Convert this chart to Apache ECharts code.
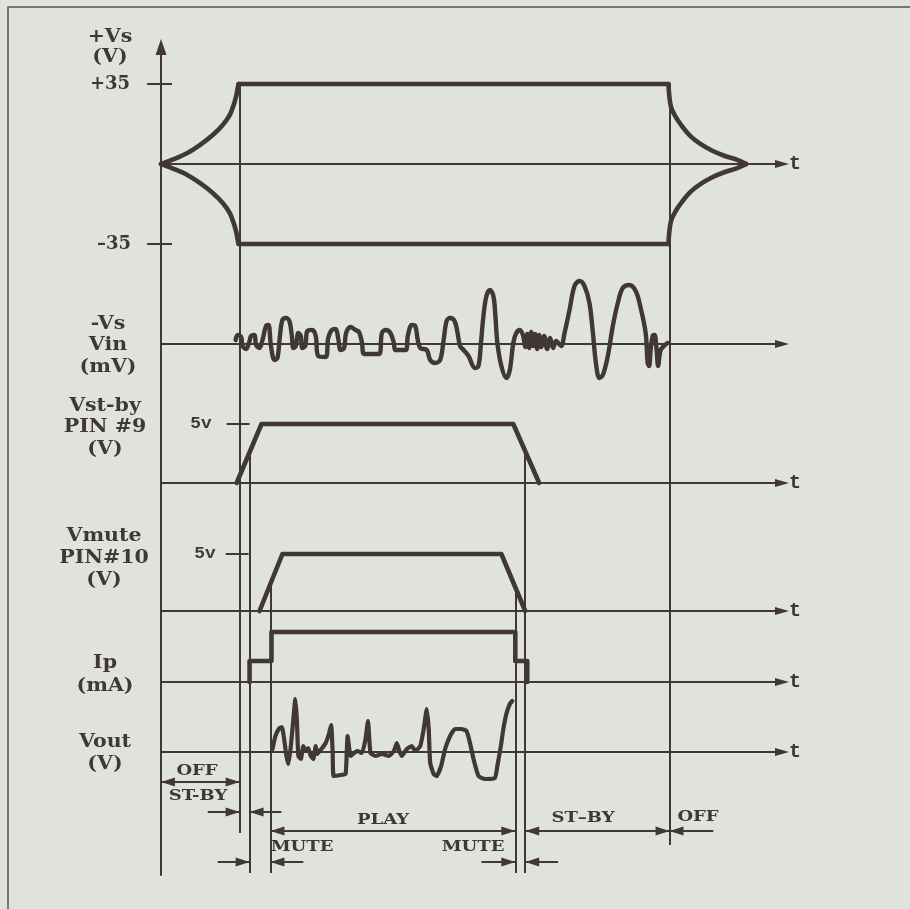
<!DOCTYPE html>
<html><head><meta charset="utf-8">
<script src="https://cdn.jsdelivr.net/npm/echarts@6/dist/echarts.min.js"></script>
<style>html,body{margin:0;padding:0;background:#dfe3dc;}#c{width:910px;height:909px;}</style>
</head><body><div id="c"></div>
<script>
// ---------- data (time in arbitrary units, 0 = switch-on) ----------
const tMax = 624;
// +Vs / -Vs supply (V)
const vsRiseUp   = [[0,0],[12,2],[26,4.7],[39,8.3],[52,12.7],[62,17.1],[69,21.4],[73,25.8],[75.5,29.5],[77,33],[78,35]];
const vsRiseDown = [[0,0],[12,-2],[26,-4.7],[39,-8.3],[52,-12.7],[62,-17.1],[69,-21.4],[73,-25.8],[75.5,-29.5],[77,-33],[78,-35]];
const vsHoldUp   = [[78,35],[510,35]];
const vsHoldDown = [[78,-35],[510,-35]];
const vsDecayUp   = [[510,35],[510.5,31],[512.5,25],[517,20.7],[524,16.3],[532,12.2],[542,8.8],[554,5.8],[566,3.6],[579,1.8],[588,0]];
const vsDecayDown = [[510,-35],[510.5,-31],[512.5,-25],[517,-20.7],[524,-16.3],[532,-12.2],[542,-8.8],[554,-5.8],[566,-3.6],[579,-1.8],[588,0]];
// Vin (mV, arbitrary)
const vin = [[75,4],[77,9],[80.5,7],[82,-2],[85.5,-5],[89,3],[90.5,8],[94,9],[95.5,-1],[99,-4],[102,4],[105.5,18],[108,19],[110.5,-2],[114,-16],[117,-14],[119.5,8],[122,24],[125.5,26],[129,23],[131.5,8],[133,-4],[135.5,-2],[138,11],[140.5,8],[142,-4],[145,-2],[147,13],[152,14],[155.5,8],[158,-12],[165.5,-13],[168,6],[171.5,14],[175.5,15],[178,6],[180.5,-6],[184,-4],[186,11],[190.5,17],[195.5,14],[199,12],[202,1],[204,-10],[219,-10],[222,11],[226,14],[230.5,11],[234,1],[235.5,-6],[246,-6],[248,8],[252,19],[255.5,18],[258,4],[260.5,-4],[267,-6],[270.5,-16],[275.5,-19],[280.5,-16],[284,4],[287,23],[290.5,26],[295,23],[298,11],[300.5,-2],[304,-6],[309,-12],[315.5,-24],[319,-22],[321.5,1],[324,28],[327,48],[330.5,54],[334,48],[336,28],[338,1],[342,-22],[347,-34],[350.5,-26],[354,1],[357,11],[360.5,14],[364,8],[366,-3],[368,10],[370,-4],[372,12],[374,-2],[376,10],[378,-5],[380,9],[382,-3],[385,8],[388,-5],[391,6],[394,-4],[397,3],[402,-2],[405.5,11],[410.5,34],[415.5,58],[420.5,63],[425.5,58],[430.5,41],[434,11],[437,-19],[440.5,-34],[444,-31],[449,-12],[454,18],[459,41],[464,56],[470.5,59],[477,53],[482,36],[487,11],[489,-19],[490.5,-22],[492,-6],[494,8],[496,9],[498,-6],[499.5,-22],[502,-6],[505.5,-2],[509,1]];
// Vst-by, PIN 9 (V)
const vstby = [[76,0],[101,5],[354,5],[380,0]];
// Vmute, PIN 10 (V)
const vmute = [[99,0],[122,5],[342,5],[366,0]];
// Ip (mA, arbitrary)
const ip = [[89,0],[89,21],[111,21],[111,50],[356,50],[356,21],[368,21],[368,0]];
// Vout (V, arbitrary)
const vout = [[112,3],[115,16],[119,24],[121.5,25],[124,11],[126,-4],[128,-12],[130.5,6],[133,33],[135,53],[136.5,33],[138,-4],[140.5,-7],[143,6],[145.5,1],[148,4],[150.5,-4],[153,-7],[155.5,6],[157,-2],[159.5,1],[162,4],[165.5,9],[169,19],[171,27],[172.5,-1],[173.5,-24],[180.5,-23],[185.5,-22],[187.5,16],[190.5,-4],[194,-1],[197,1],[202,-1],[205.5,13],[208,31],[210.5,-1],[215.5,-4],[222,-2],[229,-4],[234,1],[237,9],[239.5,1],[242,-4],[247,3],[252,6],[255.5,1],[260.5,6],[264,23],[267,43],[269,23],[270.5,-11],[274,-22],[277,-24],[281.5,-14],[285.5,3],[290.5,16],[295.5,23],[302,23],[307,21],[310.5,9],[314,-7],[319,-24],[325.5,-27],[335.5,-26],[338,-14],[341.5,6],[344,23],[347,38],[350.5,48],[353,51]];
// reference marks
const vsTicks = [[[-14,35],[11,35]],[[-14,-35],[11,-35]]];
const fiveVoltTicks = [[[66,5],[89,5]],[[65,5],[88,5]]];
// event instants (vertical markers): time, row where it starts, value there, depth where it ends
const eventTimes  = [79, 89, 110, 356, 366, 511];
const eventRows   = [0, 2, 3, 3, 2, 0];
const eventStart  = [35, 2.6, 2.4, 2.1, 2.7, 35];
const eventEnd    = [78, 118, 118, 118, 118, 90];
// phase arrows [from, to, depth]
const doubleArrows = [[0,79,27],[110,356,76],[366,511,76]];
const singleArrows = [[47,79,57],[121,89,57],[555,511,76],[57,89,107],[143,110,107],[322,356,107],[399,366,107]];
// text
const rowTitles = ['+Vs','(V)','-Vs','Vin','(mV)','Vst-by','PIN #9','(V)','Vmute','PIN#10','(V)','Ip','(mA)','Vout','(V)'];
const scaleLabels = ['+35','–35'];
const levelLabels = ['5v','5v'];
const phaseLabels = ['OFF','ST-BY','PLAY','MUTE','MUTE','ST–BY','OFF'];
const tNames = ['t','','t','t','t','t'];

// ---------- layout ----------
const rowTitlePos = [[110,37],[110,57],[108,324],[108,345],[108,367],[105,406],[105,427],[105,449],[104,536],[104,558],[104,580],[105,663],[105,686],[105,742],[105,764]];
const scaleLabelPos = [[110,84],[114,244]];
const levelLabelPos = [[201,424],[205,554]];
const phaseLabelPos = [[197,771],[198,796],[383,820],[302,847],[473,847],[583,818],[698,817]];
function band(top, bottom, base, pxPerUnit){
  return {top, height: bottom-top, max:(base-top)/pxPerUnit, min:-(bottom-base)/pxPerUnit};
}
const bands = [
  band(47,281,164,160/70),
  band(281,414,344,1),
  band(414,547,483,59/5),
  band(547,646,611,57/5),
  band(646,717,682,1),
  band(717,790,752,1)
];
const G = bands.length; // annotation grid index
const ink = '#413836';
const serif = 'DejaVu Serif';
const mono = 'Liberation Mono';

const grids=[], xAxes=[], yAxes=[], series=[];
const hidden = {axisTick:{show:false}, axisLabel:{show:false}, splitLine:{show:false}};
bands.forEach((b,i)=>{
  grids.push({left:161, right:128, top:b.top, height:b.height});
  xAxes.push(Object.assign({type:'value', gridIndex:i, min:0, max:tMax,
    name:tNames[i], nameLocation:'end', nameGap:7,
    nameTextStyle:{fontFamily:mono, fontWeight:'bold', fontSize:20, color:ink, verticalAlign:'middle'},
    axisLine:{show:true, onZero:true, symbol:['none','triangle'], symbolSize:[8,14], lineStyle:{color:ink,width:2}}}, hidden));
  yAxes.push(Object.assign({type:'value', gridIndex:i, min:b.min, max:b.max,
    axisLine:{show:true, onZero:true, symbol: i===0?['none','triangle']:'none', symbolSize:[11,16], lineStyle:{color:ink,width:2}}}, hidden));
});
grids.push({left:161, right:128, top:755, height:120});
xAxes.push(Object.assign({type:'value', gridIndex:G, min:0, max:tMax, show:false}, hidden));
yAxes.push(Object.assign({type:'value', gridIndex:G, min:0, max:120, inverse:true,
  axisLine:{show:true, onZero:false, lineStyle:{color:ink,width:2}}}, hidden));

function trace(i, data, width, smooth){
  return {type:'line', xAxisIndex:i, yAxisIndex:i, data, symbol:'none', showSymbol:false,
    smooth: smooth||false, clip:false, silent:true, animation:false, z:3,
    lineStyle:{color:ink, width, cap:'round', join:'round'}};
}
function segments(i, list, width){
  return {type:'lines', coordinateSystem:'cartesian2d', xAxisIndex:i, yAxisIndex:i,
    data:list.map(c=>({coords:c})), symbol:'none', clip:false, silent:true, animation:false, z:2,
    lineStyle:{color:ink, width, opacity:1, curveness:0}};
}
series.push(trace(0, vsRiseUp, 4.6, 0.35), trace(0, vsRiseDown, 4.6, 0.35),
            trace(0, vsHoldUp, 4.6), trace(0, vsHoldDown, 4.6),
            trace(0, vsDecayUp, 4.6, 0.4), trace(0, vsDecayDown, 4.6, 0.4));
series.push(trace(1, vin, 4.4, 0.35));
series.push(trace(2, vstby, 4.6));
series.push(trace(3, vmute, 4.6));
series.push(trace(4, ip, 4.6));
series.push(trace(5, vout, 4.2, 0.15));
series.push(segments(0, vsTicks, 2));
series.push(segments(2, [fiveVoltTicks[0]], 2), segments(3, [fiveVoltTicks[1]], 2));

// vertical event markers, split per grid using each axis range
const segs = bands.map(()=>[]); segs.push([]);
eventTimes.forEach((t,k)=>{
  const r0 = eventRows[k];
  segs[r0].push([[t,eventStart[k]],[t,bands[r0].min]]);
  for(let r=r0+1;r<bands.length;r++) segs[r].push([[t,bands[r].max],[t,bands[r].min]]);
  segs[G].push([[t,0],[t,eventEnd[k]]]);
});
segs.forEach((s,i)=>series.push(segments(i, s, 2)));
// phase arrows
const arrowLines = doubleArrows.concat(singleArrows).map(a=>[[a[0],a[2]],[a[1],a[2]]]);
series.push(segments(G, arrowLines, 2));
const heads = [];
function head(from, to, d){ const dir = Math.sign(to-from); heads.push({value:[to-dir*7, d], symbolRotate: dir>0?-90:90}); }
doubleArrows.forEach(a=>{ head(a[0],a[1],a[2]); head(a[1],a[0],a[2]); });
singleArrows.forEach(a=>head(a[0],a[1],a[2]));
series.push({type:'scatter', xAxisIndex:G, yAxisIndex:G, data:heads, symbol:'triangle', symbolSize:[9,14],
  clip:false, silent:true, animation:false, z:4, itemStyle:{color:ink, opacity:1}});

// text
const graphics = [];
function txt(s, p, font, sx){
  graphics.push({type:'text', x:p[0], y:p[1], scaleX:sx||1, silent:true, z:10,
    style:{text:s, font, fill:ink, align:'center', verticalAlign:'middle', textAlign:'center', textVerticalAlign:'middle'}});
}
rowTitles.forEach((s,i)=>txt(s,rowTitlePos[i],'bold 19px "'+serif+'"',1.08));
scaleLabels.forEach((s,i)=>txt(s,scaleLabelPos[i],'bold 18px "'+serif+'"',1.0));
levelLabels.forEach((s,i)=>txt(s,levelLabelPos[i],'bold 17px "'+mono+'"',1.05));
phaseLabels.forEach((s,i)=>txt(s,phaseLabelPos[i],'bold 15px "'+serif+'"',1.2));
// page frame
graphics.push({type:'polyline', silent:true, z:1, shape:{points:[[8,909],[8,7],[910,7]]}, style:{stroke:'#5b5350', lineWidth:1.5, fill:null}});

const chart = echarts.init(document.getElementById('c'));
chart.setOption({backgroundColor:'#dfe3dc', animation:false, grid:grids, xAxis:xAxes, yAxis:yAxes, series, graphic:graphics});
</script></body></html>
